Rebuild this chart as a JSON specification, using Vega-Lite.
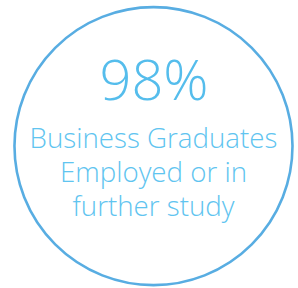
{
  "$schema": "https://vega.github.io/schema/vega-lite/v6.json",
  "width": 298,
  "height": 288,
  "autosize": {"type": "fit", "contains": "padding"},
  "padding": 0,
  "background": "white",
  "config": {"view": {"stroke": null}},
  "datasets": {
    "ring": [{"cx": 154, "cy": 148.7}],
    "texts": [
      {"kind": "stat", "label": "98%", "px": 154.5, "py": 102},
      {"kind": "desc", "label": "Business Graduates", "px": 154, "py": 151},
      {"kind": "desc", "label": "Employed or in", "px": 154, "py": 185.5},
      {"kind": "desc", "label": "further study", "px": 154, "py": 219.5}
    ]
  },
  "layer": [
    {
      "data": {"name": "ring"},
      "mark": {"type": "point", "shape": "circle", "filled": false, "stroke": "#58ade2", "strokeWidth": 2.6, "size": 77300, "opacity": 1, "clip": false},
      "encoding": {
        "x": {"field": "cx", "type": "quantitative", "scale": {"domain": [0, 298]}, "axis": null},
        "y": {"field": "cy", "type": "quantitative", "scale": {"domain": [0, 288], "reverse": true}, "axis": null}
      }
    },
    {
      "data": {"name": "texts"},
      "transform": [{"filter": "datum.kind === 'stat'"}],
      "mark": {"type": "text", "font": "Open Sans", "fontWeight": 300, "fontSize": 56, "color": "#55bdec", "baseline": "alphabetic", "align": "center"},
      "encoding": {
        "x": {"field": "px", "type": "quantitative", "scale": {"domain": [0, 298]}, "axis": null},
        "y": {"field": "py", "type": "quantitative", "scale": {"domain": [0, 288], "reverse": true}, "axis": null},
        "text": {"field": "label"}
      }
    },
    {
      "data": {"name": "texts"},
      "transform": [{"filter": "datum.kind === 'desc'"}],
      "mark": {"type": "text", "font": "Open Sans", "fontWeight": 300, "fontSize": 27.7, "color": "#60c4f0", "baseline": "alphabetic", "align": "center"},
      "encoding": {
        "x": {"field": "px", "type": "quantitative", "scale": {"domain": [0, 298]}, "axis": null},
        "y": {"field": "py", "type": "quantitative", "scale": {"domain": [0, 288], "reverse": true}, "axis": null},
        "text": {"field": "label"}
      }
    }
  ]
}
